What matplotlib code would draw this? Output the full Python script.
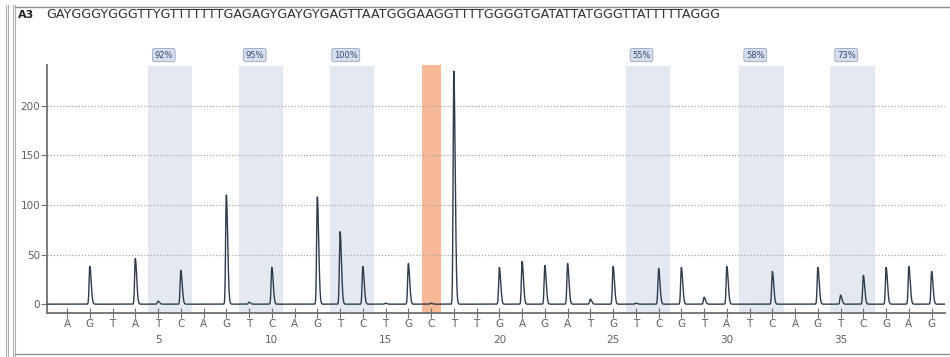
import numpy as np
import matplotlib
matplotlib.use("Agg")
import matplotlib.pyplot as plt
from matplotlib.lines import Line2D
from matplotlib.transforms import blended_transform_factory

# ==========================
# DATA
# ==========================
well = "A3"
sequence = "GAYGGGYGGGTTYGTTTTTTTGAGAGYGAYGYGAGTTAATGGGAAGGTTTTGGGGTGATATTATGGGTTATTTTTAGGG"
dispensation = list("AGTATCAGTCAGTCTGCTTGAGATGTCGTATCAGTCGAG")
peak_heights = [0, 38, 0, 46, 3, 34, 0, 110, 2, 37, 0, 108, 73, 38, 1, 41, 1, 235, 0,
                37, 43, 39, 41, 5, 38, 1, 36, 37, 7, 38, 0, 33, 0, 37, 9, 29, 37, 38, 33]
cpg_starts = [5, 9, 13, 26, 31, 35]
cpg_labels = ["92%", "95%", "100%", "55%", "58%", "73%"]
control_pos = 17
number_ticks = [5, 10, 15, 20, 25, 30, 35]

positions = np.arange(1, len(dispensation) + 1)

# ==========================
# TRACE
# ==========================
xs = np.linspace(0, 40, 8000)
trace = np.zeros_like(xs)
for p, h in zip(positions, peak_heights):
    d = xs - p
    left = np.exp(-0.5 * (d / 0.03) ** 2)
    right = np.exp(-0.5 * (d / 0.06) ** 2)
    trace += h * np.where(d < 0, left, right)

fig = plt.figure(figsize=(9.5, 3.57), dpi=100)
ax = fig.add_axes([0.0495, 0.123, 0.9455, 0.695])

# shaded CpG bands
for s in cpg_starts:
    ax.axvspan(s - 0.45, s + 1.5, ymin=0, ymax=0.995, color="#e4e9f1", lw=0, zorder=0)
ax.axvspan(control_pos - 0.4, control_pos + 0.42, ymin=0, ymax=1.0, color="#f9b898", lw=0, zorder=0)

# grid
for g in [50, 100, 150, 200]:
    ax.axhline(g, color="#a8a8a8", lw=0.9, ls=(0, (1, 1.5)), zorder=1)

ax.plot(xs, trace, color="#2e3c4b", lw=1.0, zorder=3)

ax.set_xlim(0.12, 39.6)
ax.set_ylim(-9, 241)

for side in ["top", "right"]:
    ax.spines[side].set_visible(False)
for side in ["left", "bottom"]:
    ax.spines[side].set_color("#707070")
    ax.spines[side].set_linewidth(1.3)

ax.set_yticks([0, 50, 100, 150, 200])
ax.tick_params(axis="y", labelsize=7.5, colors="#707070", labelcolor="#606060", length=4, pad=1)
ax.set_xticks(positions)
ax.set_xticklabels(dispensation)
ax.tick_params(axis="x", direction="inout", length=7, labelsize=7.5, colors="#707070",
               labelcolor="#606060", pad=1)

trans = blended_transform_factory(ax.transData, ax.transAxes)
for n in number_ticks:
    ax.text(n, -0.11, str(n), transform=trans, ha="center", va="center",
            fontsize=7.5, color="#606060")

for s, lab in zip(cpg_starts, cpg_labels):
    ax.text(s + 0.25, 1.04, lab, transform=trans, ha="center", va="center",
            fontsize=6, color="#3a4a6a", clip_on=False,
            bbox=dict(boxstyle="round,pad=0.25", fc="#d5def0", ec="#9aa6ba", lw=0.6))

# header
fig.text(0.019, 0.958, well, fontsize=8, fontweight="bold", color="#222222", va="center")
fig.text(0.049, 0.958, sequence, fontsize=9.2, color="#333333", va="center")

# window frame
for x in [0.006, 0.008, 0.014, 0.016]:
    fig.add_artist(Line2D([x, x], [0, 0.985], color="#b0b0b0", lw=0.8))
fig.add_artist(Line2D([0.016, 1.0], [0.98, 0.98], color="#909090", lw=1.0))
fig.add_artist(Line2D([0.016, 1.0], [0.008, 0.008], color="#909090", lw=1.0))

fig.savefig("out.png", dpi=100)
